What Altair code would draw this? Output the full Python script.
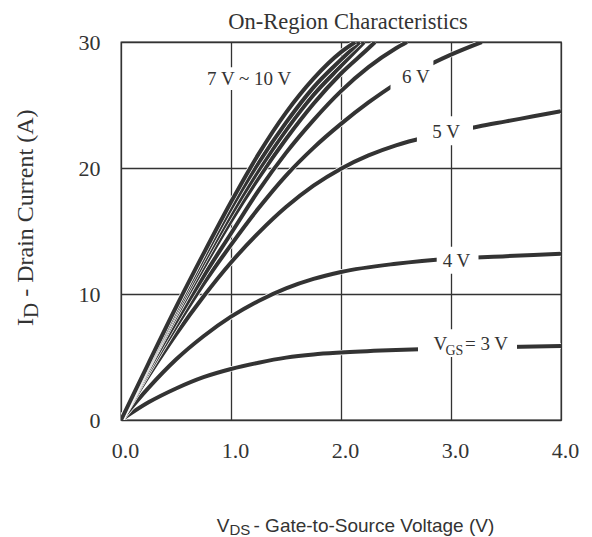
import altair as alt
import pandas as pd

INK = "#333333"
SERIF = "Liberation Serif"
SANS = "Liberation Sans"

# ---- curve data (V_DS in volts, I_D in amps) ----
v_3 = [0, 0.25, 0.5, 0.75, 1.0, 1.25, 1.5, 1.75, 2.0, 2.5, 3.0, 3.5, 4.0]
i_3 = [0, 1.4, 2.5, 3.4, 4.05, 4.55, 4.95, 5.2, 5.35, 5.55, 5.7, 5.8, 5.88]

v_4 = [0, 0.25, 0.5, 0.75, 1.0, 1.25, 1.5, 1.75, 2.0, 2.5, 3.0, 3.5, 4.0]
i_4 = [0, 2.55, 4.8, 6.65, 8.2, 9.45, 10.45, 11.2, 11.75, 12.4, 12.8, 13.0, 13.2]

v_5 = [0, 0.25, 0.5, 0.75, 1.0, 1.25, 1.5, 1.75, 2.0, 2.25, 2.5, 2.75, 3.0, 3.25, 3.5, 3.75, 4.0]
i_5 = [0, 3.5, 6.8, 9.8, 12.5, 14.85, 16.9, 18.6, 19.95, 21.0, 21.8, 22.4, 22.85, 23.3, 23.7, 24.1, 24.5]

v_6 = [0, 0.25, 0.5, 0.75, 1.0, 1.25, 1.5, 1.75, 2.0, 2.25, 2.5, 2.75, 3.0, 3.28]
i_6 = [0, 3.8, 7.4, 10.8, 13.9, 16.8, 19.4, 21.6, 23.5, 25.2, 26.7, 27.95, 29.0, 30.0]

v_hi_e = [0, 0.25, 0.5, 0.75, 1.0, 1.25, 1.5, 1.75, 2.0, 2.25, 2.5, 2.6]
i_hi_e = [0, 4.0, 7.8, 11.4, 14.8, 18.2, 21.2, 23.8, 26.1, 28.0, 29.5, 30.0]

v_hi_d = [0, 0.25, 0.5, 0.75, 1.0, 1.25, 1.5, 1.75, 2.0, 2.25, 2.31]
i_hi_d = [0, 4.2, 8.25, 12.1, 15.8, 19.2, 22.3, 25.1, 27.5, 29.5, 30.0]

v_hi_c = [0, 0.25, 0.5, 0.75, 1.0, 1.25, 1.5, 1.75, 2.0, 2.21]
i_hi_c = [0, 4.3, 8.5, 12.5, 16.3, 19.8, 23.0, 25.8, 28.1, 30.0]

v_hi_b = [0, 0.25, 0.5, 0.75, 1.0, 1.25, 1.5, 1.75, 2.0, 2.17]
i_hi_b = [0, 4.4, 8.7, 12.85, 16.8, 20.4, 23.6, 26.4, 28.6, 30.0]

v_hi_a = [0, 0.25, 0.5, 0.75, 1.0, 1.25, 1.5, 1.75, 2.0, 2.13]
i_hi_a = [0, 4.5, 8.95, 13.2, 17.3, 21.1, 24.4, 27.1, 29.2, 30.0]

curve_names = ["3 V", "4 V", "5 V", "6 V", "7~10 V e", "7~10 V d", "7~10 V c", "7~10 V b", "7~10 V a"]
curve_v = [v_3, v_4, v_5, v_6, v_hi_e, v_hi_d, v_hi_c, v_hi_b, v_hi_a]
curve_i = [i_3, i_4, i_5, i_6, i_hi_e, i_hi_d, i_hi_c, i_hi_b, i_hi_a]

# ---- axis ticks ----
x_ticks = [0, 1, 2, 3, 4]
y_ticks = [0, 10, 20, 30]

# ---- in-plot labels ----
lbl_text = ["7 V ~ 10 V", "6 V", "5 V", "4 V"]
lbl_v = [1.165, 2.68, 2.955, 3.05]
lbl_i = [26.6, 26.75, 22.4, 12.17]

# white knock-out boxes behind the labels (data units)
gap_v0 = [0.80, 2.45, 2.69, 2.87, 2.70]
gap_v1 = [1.53, 2.84, 3.20, 3.25, 3.60]
gap_i0 = [26.2, 25.9, 21.8, 11.6, 5.0]
gap_i1 = [28.0, 28.7, 24.1, 13.75, 7.2]

rows = []
for name, vs, iss in zip(curve_names, curve_v, curve_i):
    for v, i in zip(vs, iss):
        rows.append({"curve": name, "V": v, "I": i})
df = pd.DataFrame(rows)

gaps = pd.DataFrame({"V": gap_v0, "V1": gap_v1, "I": gap_i0, "I1": gap_i1})
labels = pd.DataFrame({"V": lbl_v, "I": lbl_i, "text": lbl_text})
vgs_main = pd.DataFrame({"V": [2.84, 3.127], "I": [5.56, 5.56], "text": ["V", "= 3 V"]})
vgs_sub = pd.DataFrame({"V": [2.95], "I": [5.56], "text": ["GS"]})

x_scale = alt.Scale(domain=[0, 4], nice=False, zero=False)
y_scale = alt.Scale(domain=[0, 30], nice=False)

x_axis = alt.Axis(values=x_ticks, format=".1f", title=None, grid=True, domain=False,
                  ticks=False, labelPadding=20, labelFont=SERIF, labelFontSize=22,
                  labelColor=INK, gridColor=INK, gridWidth=1.3, gridOpacity=1,
                  labelOffset=4, labelFlush=False)
y_axis = alt.Axis(values=y_ticks, title=None, grid=True, domain=False, ticks=False,
                  labelPadding=21, labelFont=SERIF, labelFontSize=22, labelColor=INK,
                  gridColor=INK, gridWidth=1.3, gridOpacity=1, labelFlush=False)

X = alt.X("V:Q", scale=x_scale, axis=x_axis)
Y = alt.Y("I:Q", scale=y_scale, axis=y_axis)

layers = []
for name in curve_names:
    sub = alt.Chart(df).transform_filter(alt.datum.curve == name)
    layers.append(sub.mark_line(color="white", strokeWidth=5.4, interpolate="monotone",
                                clip=True).encode(x=X, y=Y))
    layers.append(sub.mark_line(color=INK, strokeWidth=4, interpolate="monotone",
                                clip=True).encode(x=X, y=Y))

layers.append(
    alt.Chart(gaps).mark_rect(color="white").encode(x=X, x2="V1:Q", y=Y, y2="I1:Q")
)
layers.append(
    alt.Chart(labels).mark_text(font=SERIF, fontSize=19, color=INK, align="center",
                                baseline="alphabetic").encode(x=X, y=Y, text="text:N")
)
layers.append(
    alt.Chart(vgs_main).mark_text(font=SERIF, fontSize=19, color=INK, align="left",
                                  baseline="alphabetic").encode(x=X, y=Y, text="text:N")
)
layers.append(
    alt.Chart(vgs_sub).mark_text(font=SERIF, fontSize=14, color=INK, align="left",
                                 baseline="alphabetic", dy=5).encode(x=X, y=Y, text="text:N")
)

one = pd.DataFrame({"k": [0]})


def txt(s, x, y, font, size, align="left", angle=0):
    return alt.Chart(one).mark_text(font=font, fontSize=size, color=INK, align=align,
                                    baseline="alphabetic", angle=angle).encode(
        x=alt.value(x), y=alt.value(y), text=alt.value(s))


# chart title
layers.append(txt("On-Region Characteristics", 227, -13.5, SERIF, 22.5, align="center"))
# x-axis title with subscript
layers.append(txt("V", 95.7, 489.7, SANS, 19))
layers.append(txt("DS", 108.5, 492.5, SANS, 15))
layers.append(txt("- Gate-to-Source Voltage (V)", 132.5, 489.7, SANS, 19))
# y-axis title with subscript (rotated, reads upward)
layers.append(txt("I", -87.7, 284, SERIF, 24, angle=270))
layers.append(txt("D", -83.0, 276, SERIF, 21, angle=270))
layers.append(txt("- Drain Current (A)", -87.7, 254.8, SERIF, 24, angle=270))

chart = alt.layer(*layers).properties(
    width=440, height=378,
    autosize=alt.AutoSizeParams(type="none"),
    padding={"left": 113, "top": 34, "right": 20, "bottom": 135},
).configure_view(stroke=INK, strokeWidth=1.3)

chart.save("out.html", embed_options={"renderer": "svg", "actions": False})
